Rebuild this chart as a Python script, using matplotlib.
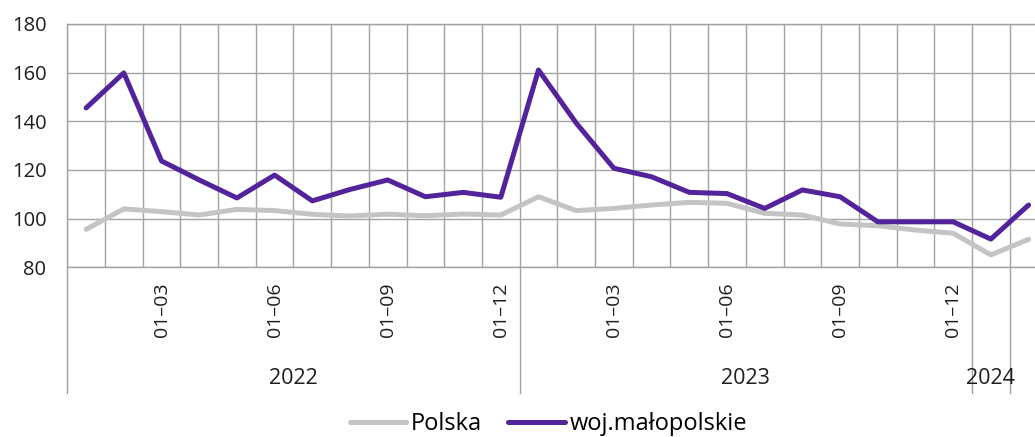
import numpy as np
import matplotlib.pyplot as plt
import matplotlib.transforms as mtransforms

plt.rcParams['font.family'] = ['Open Sans', 'DejaVu Sans']

# monthly index values, Jan 2022 .. Feb 2024
months = ['2022-01', '2022-02', '2022-03', '2022-04', '2022-05', '2022-06',
          '2022-07', '2022-08', '2022-09', '2022-10', '2022-11', '2022-12',
          '2023-01', '2023-02', '2023-03', '2023-04', '2023-05', '2023-06',
          '2023-07', '2023-08', '2023-09', '2023-10', '2023-11', '2023-12',
          '2024-01', '2024-02']
polska = [95.6, 104.0, 102.9, 101.5, 103.8, 103.3, 101.8, 101.1, 101.8, 101.2,
          101.9, 101.5, 109.0, 103.3, 104.2, 105.6, 106.7, 106.3, 102.2, 101.5,
          97.8, 97.1, 95.3, 94.0, 85.1, 91.5]
malopolskie = [145.5, 159.9, 123.7, 115.9, 108.5, 117.9, 107.3, 112.0, 115.9, 109.0,
               110.8, 108.8, 161.1, 139.3, 120.7, 117.2, 110.8, 110.3, 104.2, 111.8,
               109.0, 98.7, 98.7, 98.7, 91.6, 105.6]
tick_labels = ['01\u201303', '01\u201306', '01\u201309', '01\u201312']
years = ['2022', '2023', '2024']
year_bounds = [0, 12, 24, 25]

GRID = '#a3a3a3'
PURPLE = '#52239a'
GRAY = '#c4c4c4'
TXT = '#1e1e1e'

fig = plt.figure(figsize=(10.35, 4.37), dpi=100)
ax = fig.add_axes([0.065, 0.3883, 0.947, 0.5568])

x = np.arange(len(months)) + 0.5
ax.plot(x, polska, color=GRAY, lw=3.6, solid_capstyle='round', label='Polska')
ax.plot(x, malopolskie, color=PURPLE, lw=3.6, solid_capstyle='round', label='woj.małopolskie')

ax.set_xlim(0, 26)
ax.set_ylim(80, 180)
ax.set_yticks(np.arange(80, 181, 20))
ax.set_xticks(np.arange(0, 27), minor=True)

# month labels every third month
pos, labs = [], []
for i, m in enumerate(months):
    mm = int(m.split('-')[1])
    if mm % 3 == 0:
        pos.append(i + 0.5)
        labs.append(tick_labels[mm // 3 - 1])
ax.set_xticks(pos)
ax.set_xticklabels(labs, rotation=90, fontsize=14, color=TXT)

ax.grid(which='minor', axis='x', color=GRID, lw=1.0)
ax.grid(which='major', axis='y', color=GRID, lw=1.0)
ax.tick_params(axis='both', which='both', length=0)
ax.tick_params(axis='x', pad=11)
ax.tick_params(axis='y', pad=15, labelsize=14.5, labelcolor=TXT)
for s in ax.spines.values():
    s.set_color(GRID)
    s.set_linewidth(1.0)
ax.spines['right'].set_visible(False)

# year grouping below the axis
trans = mtransforms.blended_transform_factory(ax.transData, ax.transAxes)
for b in year_bounds:
    ax.plot([b, b], [0, -0.517], transform=trans, color=GRID, lw=1.0, clip_on=False)
for k, yr in enumerate(years):
    xc = (year_bounds[k] + year_bounds[k + 1]) / 2
    ax.text(xc, -0.455, yr, transform=trans, ha='center', va='center',
            fontsize=15.5, color=TXT)

fig.legend(loc='center', bbox_to_anchor=(0.53, 0.03), ncol=2, frameon=False,
           fontsize=17, handlelength=2.4, handletextpad=0.2, columnspacing=1.1)

fig.savefig('out.png', dpi=100)
